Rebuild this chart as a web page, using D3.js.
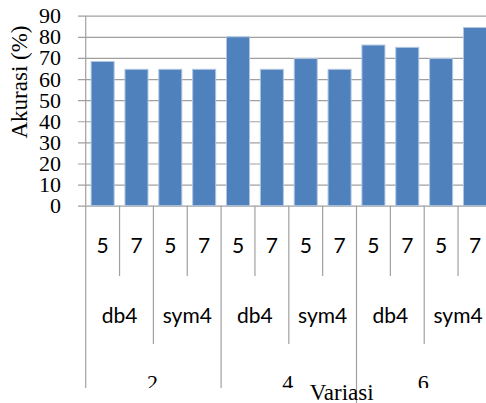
<!DOCTYPE html>
<html>
<head>
<meta charset="utf-8">
<script src="https://cdn.jsdelivr.net/npm/d3@7"></script>
<style>
  html, body { margin: 0; padding: 0; background: #fff; overflow: hidden; }
  svg { display: block; }
</style>
</head>
<body>
<script>
// ---- data ----
const variasi = ["2", "4", "6"];
const wavelet = ["db4", "sym4"];
const level = ["5", "7"];
const values = [68.3, 64.6, 64.6, 64.6, 80, 64.6, 69.7, 64.6, 76.1, 75, 69.7, 84.4];
const yTicks = [0, 10, 20, 30, 40, 50, 60, 70, 80, 90];
const yTitle = "Akurasi (%)";
const xTitle = "Variasi";

const W = 486, H = 403;
const svg = d3.select("body").append("svg").attr("width", W).attr("height", H);

const categories = [];
variasi.forEach(v => wavelet.forEach(w => level.forEach(l => categories.push(v + "|" + w + "|" + l))));
const data = categories.map((c, i) => ({ key: c, value: values[i] }));

const pLeft = 85.7, pRight = 491.9, pTop = 15.7, pBottom = 205.7;
const pad = 0.32;
const x = d3.scaleBand().domain(categories).range([pLeft, pRight]).paddingInner(pad).paddingOuter(pad / 2);
const y = d3.scaleLinear().domain([0, 90]).range([pBottom, pTop]);
const step = x.step();
const bx = i => x.range()[0] + i * step;

const grey = "#a0a0a0";
const serif = "'Liberation Serif', 'Times New Roman', serif";
const sans = "Lato, 'Open Sans', sans-serif";

// gridlines + y labels
const yAxis = d3.axisLeft(y).tickValues(yTicks).tickSize(-(W - 78 + 20)).tickPadding(17).tickFormat(d3.format("d"));
const gy = svg.append("g").attr("transform", "translate(78,0)").call(yAxis);
gy.select(".domain").remove();
gy.selectAll(".tick line").attr("stroke", grey).attr("stroke-width", 1.2);
gy.selectAll(".tick text").attr("font-family", serif).attr("font-size", 22).attr("fill", "#000");

// vertical axis line
svg.append("line").attr("x1", pLeft).attr("x2", pLeft).attr("y1", pTop).attr("y2", pBottom)
  .attr("stroke", grey).attr("stroke-width", 1.2);

// bars
svg.append("g").selectAll("rect").data(data).join("rect")
  .attr("x", d => x(d.key))
  .attr("width", x.bandwidth())
  .attr("y", d => y(d.value))
  .attr("height", d => y(0) - y(d.value))
  .attr("fill", "#4f81bd")
  .attr("stroke", "#b0c6e2")
  .attr("stroke-width", 1);

// hierarchical category axis
svg.append("clipPath").attr("id", "clipAx").append("rect")
  .attr("x", 0).attr("y", 0).attr("width", W).attr("height", 388);
const ax = svg.append("g").attr("clip-path", "url(#clipAx)");

const nL = level.length, nW = wavelet.length * nL;
for (let i = 0; i <= categories.length; i++) {
  let y2;
  if (i % nW === 0) y2 = (i === nW * 2) ? H : 388;
  else if (i % nL === 0) y2 = 344;
  else y2 = 276;
  const g = (i === nW * 2) ? svg : ax;
  g.append("line").attr("x1", bx(i)).attr("x2", bx(i)).attr("y1", pBottom).attr("y2", y2)
    .attr("stroke", grey).attr("stroke-width", 1.2);
}

// level labels
categories.forEach((c, i) => {
  ax.append("text").attr("x", bx(i) + step / 2).attr("y", 253)
    .attr("text-anchor", "middle").attr("font-family", sans).attr("font-size", 21)
    .attr("fill", "#000").text(c.split("|")[2]);
});
for (let j = 0; j < variasi.length * wavelet.length; j++) {
  ax.append("text").attr("x", bx(j * nL) + step * nL / 2).attr("y", 323)
    .attr("text-anchor", "middle").attr("font-family", sans).attr("font-size", 21)
    .attr("fill", "#000").text(wavelet[j % wavelet.length]);
}
variasi.forEach((v, k) => {
  ax.append("text").attr("x", bx(k * nW) + step * nW / 2 - 1).attr("y", 390)
    .attr("text-anchor", "middle").attr("font-family", serif).attr("font-size", 22)
    .attr("fill", "#000").text(v);
});

// x axis title
svg.append("text").attr("x", 341.7).attr("y", 400).attr("text-anchor", "middle")
  .attr("font-family", serif).attr("font-size", 23).attr("fill", "#000").text(xTitle);

// y axis title
svg.append("text").attr("transform", "translate(27,82) rotate(-90)").attr("text-anchor", "middle")
  .attr("font-family", serif).attr("font-size", 23).attr("fill", "#000").text(yTitle);
</script>
</body>
</html>
